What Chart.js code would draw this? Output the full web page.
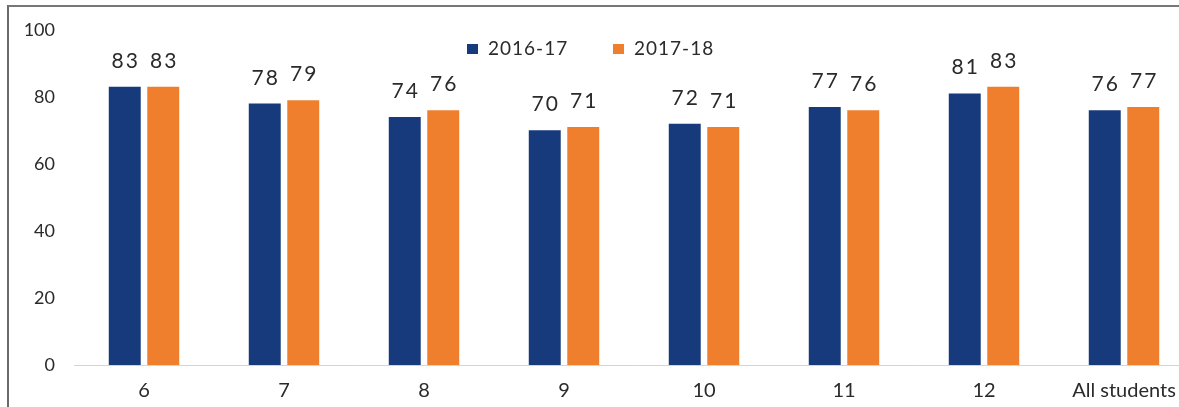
<!DOCTYPE html>
<html>
<head>
<meta charset="utf-8">
<script src="https://cdn.jsdelivr.net/npm/chart.js@4/dist/chart.umd.min.js"></script>
<style>
    html, body { margin: 0; padding: 0; background: #fff; overflow: hidden; }
    #wrap { position: relative; width: 1179px; height: 407px; overflow: hidden; }
    #chart { position: absolute; left: 0; top: 0; }
    .frame { position: absolute; left: 7px; top: 5px; right: -10px; bottom: -10px; border-left: 2px solid #6a6a6a; border-top: 2px solid #777; }
    .legend { position: absolute; top: 36px; font: 19px Lato, sans-serif; color: #2a2a2a; letter-spacing: 1px; }
    .legend span { display: inline-block; width: 11px; height: 10px; margin-right: 10px; vertical-align: 1px; }
</style>
</head>
<body>
<div id="wrap">
    <canvas id="chart" width="1196" height="407"></canvas>
    <div class="frame"></div>
    <div class="legend" style="left: 467px;"><span style="background:#173a7c"></span>2016-17</div>
    <div class="legend" style="left: 613px;"><span style="background:#ef7f2c"></span>2017-18</div>
</div>
<script>
const categories = ['6', '7', '8', '9', '10', '11', '12', 'All students'];
const values2016 = [83, 78, 74, 70, 72, 77, 81, 76];
const values2017 = [83, 79, 76, 71, 71, 76, 83, 77];
const yTicks = [0, 20, 40, 60, 80, 100];

const colors = {
    navy: '#173a7c',
    orange: '#ef7f2c',
    text: '#2a2a2a',
    base: '#d4d4d4',
};

// value above each bar, placed from the bar element itself
const valueLabels = {
    id: 'valueLabels',
    afterDatasetsDraw(chart) {
        const ctx = chart.ctx;
        ctx.save();
        ctx.font = "21px Lato, sans-serif";
        ctx.letterSpacing = '2px';
        ctx.fillStyle = colors.text;
        ctx.textAlign = 'center';
        ctx.textBaseline = 'alphabetic';
        chart.data.datasets.forEach((ds, i) => {
            chart.getDatasetMeta(i).data.forEach((bar, j) => {
                ctx.fillText(String(ds.data[j]), bar.x + 1, bar.y - 19);
            });
        });
        ctx.restore();
    },
};

function draw() {
    new Chart(document.getElementById('chart'), {
        type: 'bar',
        data: {
            labels: categories,
            datasets: [
                { label: '2016-17', data: values2016, backgroundColor: colors.navy },
                { label: '2017-18', data: values2017, backgroundColor: colors.orange },
            ],
        },
        options: {
            responsive: false,
            animation: false,
            events: [],
            categoryPercentage: 0.55,
            barPercentage: 0.83,
            layout: { padding: { top: 25, right: 2, left: 0, bottom: 0 } },
            plugins: {
                legend: { display: false },
                tooltip: { enabled: false },
            },
            scales: {
                x: {
                    grid: { display: false, drawTicks: false },
                    border: { display: true, color: colors.base, dash: [3, 3], width: 1 },
                    ticks: {
                        color: colors.text,
                        font: { family: 'Lato', size: 20 },
                        padding: 14,
                        maxRotation: 0,
                    },
                    afterFit(scale) { scale.height = 42; },
                },
                y: {
                    min: 0,
                    max: 100,
                    afterBuildTicks(scale) { scale.ticks = yTicks.map((v) => ({ value: v })); },
                    grid: { display: false, drawTicks: false },
                    border: { display: false },
                    ticks: {
                        color: colors.text,
                        font: { family: 'Lato', size: 18 },
                        padding: 19,
                    },
                    afterFit(scale) { scale.width = 74; },
                },
            },
        },
        plugins: [valueLabels],
    });
}

document.fonts.load('20px Lato').then(draw, draw);
</script>
</body>
</html>
